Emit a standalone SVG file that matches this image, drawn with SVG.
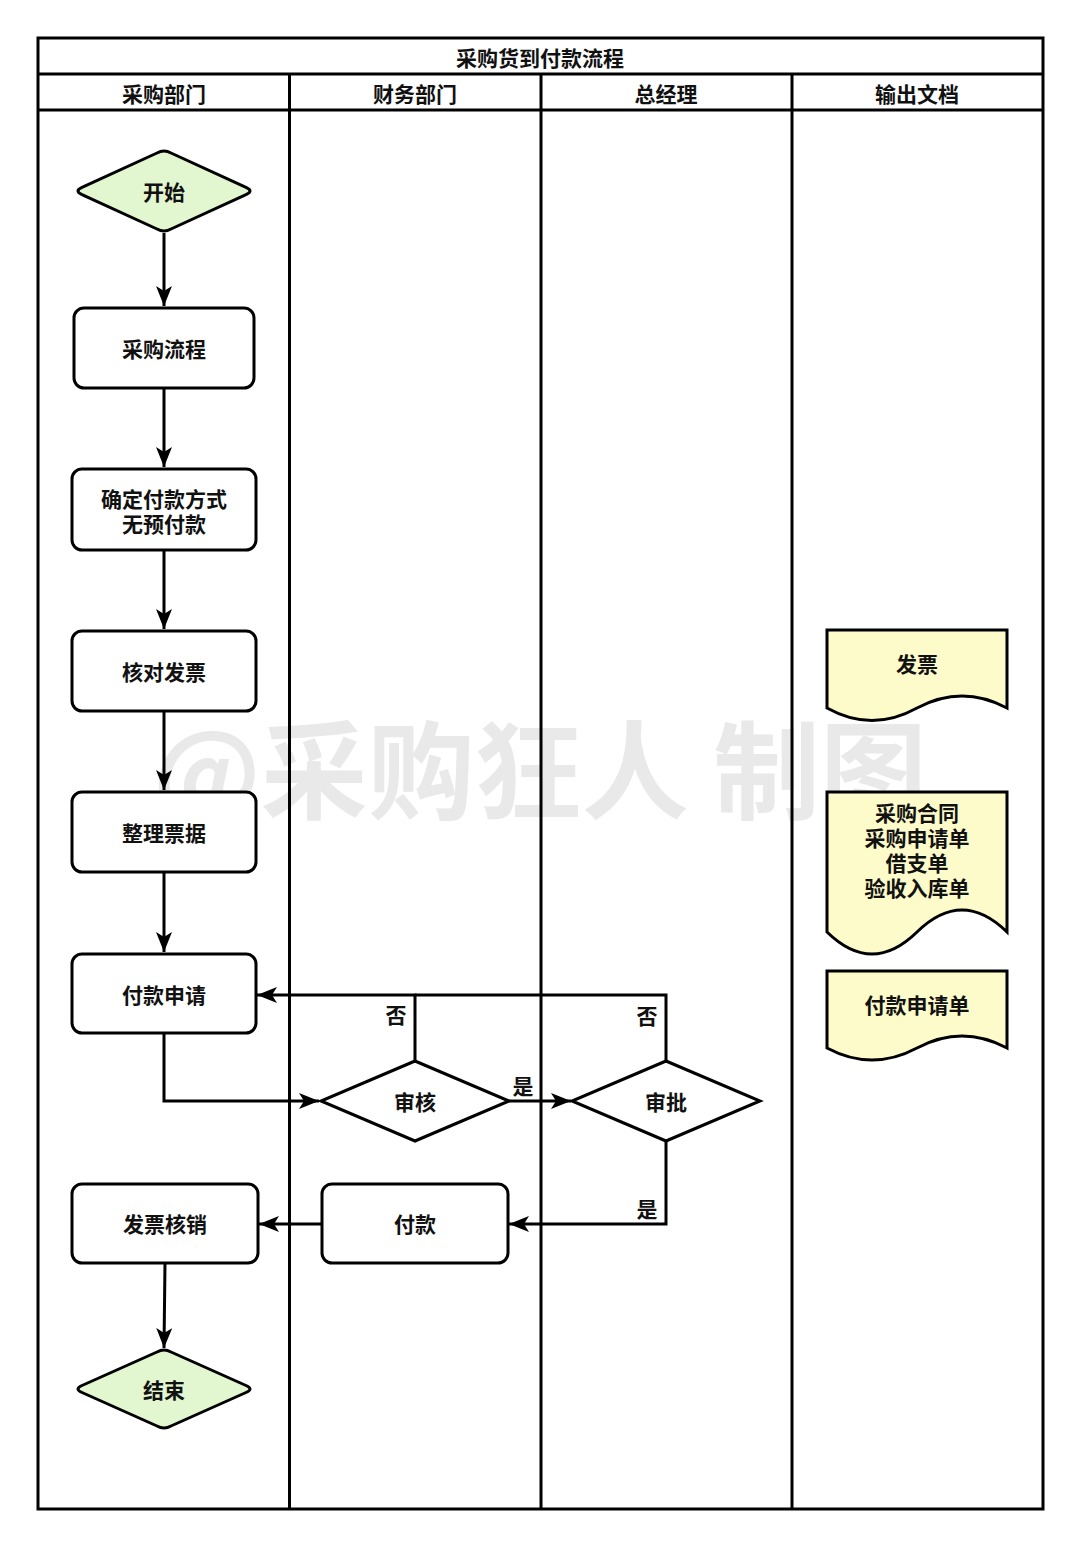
<svg xmlns="http://www.w3.org/2000/svg" width="1080" height="1546" viewBox="0 0 1080 1546">
<style>
text{font-family:"Noto Sans CJK SC","Noto Sans",sans-serif;font-weight:bold;fill:#111;text-anchor:middle;dominant-baseline:central}
.t{font-size:21px}
.lane{fill:none;stroke:#000;stroke-width:3}
.box{fill:#fff;stroke:#000;stroke-width:3}
.term{fill:#e2f7cf;stroke:#000;stroke-width:3;stroke-linejoin:round}
.dec{fill:#fff;stroke:#000;stroke-width:3}
.doc{fill:#fdfbc9;stroke:#000;stroke-width:3}
.c{fill:none;stroke:#000;stroke-width:3}
.wm{font-size:107px;fill:#e9e9e9;dominant-baseline:auto}
</style>
<defs>
<marker id="ah" markerUnits="userSpaceOnUse" markerWidth="22" markerHeight="18" refX="20" refY="8" orient="auto" viewBox="0 0 22 18">
<path d="M0,0 L20,8 L0,16 L5,8 Z" fill="#000"/>
</marker>
</defs>
<rect width="1080" height="1546" fill="#fff"/>
<text class="wm" x="540" y="811">@采购狂人 制图</text>
<g id="pool">
<rect class="lane" x="38" y="38" width="1005" height="1471"/>
<line class="lane" x1="38" y1="74" x2="1043" y2="74"/>
<line class="lane" x1="38" y1="110" x2="1043" y2="110"/>
<line class="lane" x1="289.5" y1="74" x2="289.5" y2="1509"/>
<line class="lane" x1="541" y1="74" x2="541" y2="1509"/>
<line class="lane" x1="792" y1="74" x2="792" y2="1509"/>
<text class="t" x="540" y="57">采购货到付款流程</text>
<text class="t" x="164" y="93">采购部门</text>
<text class="t" x="415" y="93">财务部门</text>
<text class="t" x="666" y="93">总经理</text>
<text class="t" x="917" y="93">输出文档</text>
</g>
<g id="connectors">
<path class="c" d="M164,233 V306" marker-end="url(#ah)"/>
<path class="c" d="M164,388 V467" marker-end="url(#ah)"/>
<path class="c" d="M164,550 V629" marker-end="url(#ah)"/>
<path class="c" d="M164,711 V790" marker-end="url(#ah)"/>
<path class="c" d="M164,872 V952" marker-end="url(#ah)"/>
<path class="c" d="M164,1033 V1101 H319" marker-end="url(#ah)"/>
<path class="c" d="M509,1101 H571" marker-end="url(#ah)"/>
<path class="c" d="M415,1061 V995 H257" marker-end="url(#ah)"/>
<path class="c" d="M666,1061 V995 H415"/>
<path class="c" d="M666,1141 V1224 H509" marker-end="url(#ah)"/>
<path class="c" d="M322,1224 H259" marker-end="url(#ah)"/>
<path class="c" d="M165,1263 L164,1348" marker-end="url(#ah)"/>
<text class="t" x="396" y="1014">否</text>
<text class="t" x="647" y="1015">否</text>
<text class="t" x="523" y="1085">是</text>
<text class="t" x="647" y="1208">是</text>
</g>
<g id="start">
<path class="term" d="M157,153 Q164,149 171,153 L246,187.4 Q254,191 246,194.6 L171,229 Q164,233 157,229 L82,194.6 Q74,191 82,187.4 Z"/>
<text class="t" x="164" y="191">开始</text>
</g>
<g id="n1">
<rect class="box" x="74" y="308" width="180" height="80" rx="10"/>
<text class="t" x="164" y="348">采购流程</text>
</g>
<g id="n2">
<rect class="box" x="72" y="469" width="184" height="81" rx="10"/>
<text class="t" x="164" y="498">确定付款方式</text>
<text class="t" x="164" y="523">无预付款</text>
</g>
<g id="n3">
<rect class="box" x="72" y="631" width="184" height="80" rx="10"/>
<text class="t" x="164" y="671">核对发票</text>
</g>
<g id="n4">
<rect class="box" x="72" y="792" width="184" height="80" rx="10"/>
<text class="t" x="164" y="832">整理票据</text>
</g>
<g id="n5">
<rect class="box" x="72" y="954" width="184" height="79" rx="10"/>
<text class="t" x="164" y="994">付款申请</text>
</g>
<g id="d1">
<path class="dec" d="M415,1061 L509,1101 L415,1141 L321,1101 Z"/>
<text class="t" x="415" y="1101">审核</text>
</g>
<g id="d2">
<path class="dec" d="M666,1061 L760,1101 L666,1141 L572,1101 Z"/>
<text class="t" x="666" y="1101">审批</text>
</g>
<g id="n6">
<rect class="box" x="322" y="1184" width="186" height="79" rx="10"/>
<text class="t" x="415" y="1223">付款</text>
</g>
<g id="n7">
<rect class="box" x="72" y="1184" width="186" height="79" rx="10"/>
<text class="t" x="165" y="1223">发票核销</text>
</g>
<g id="end">
<path class="term" d="M157,1352 Q164,1348 171,1352 L246,1385.5 Q254,1389 246,1392.5 L171,1426 Q164,1430 157,1426 L82,1392.5 Q74,1389 82,1385.5 Z"/>
<text class="t" x="164" y="1389">结束</text>
</g>
<g id="doc1">
<path class="doc" d="M827,630 H1007 V708 Q962,684 917,708 Q872,733 827,708 Z"/>
<text class="t" x="917" y="663">发票</text>
</g>
<g id="doc2">
<path class="doc" d="M827,792 H1007 V932 Q962,888 917,932 Q872,976 827,932 Z"/>
<text class="t" x="917" y="812">采购合同</text>
<text class="t" x="917" y="837">采购申请单</text>
<text class="t" x="917" y="862">借支单</text>
<text class="t" x="917" y="887">验收入库单</text>
</g>
<g id="doc3">
<path class="doc" d="M827,971 H1007 V1048 Q962,1024 917,1048 Q872,1072 827,1048 Z"/>
<text class="t" x="917" y="1004">付款申请单</text>
</g>
</svg>
